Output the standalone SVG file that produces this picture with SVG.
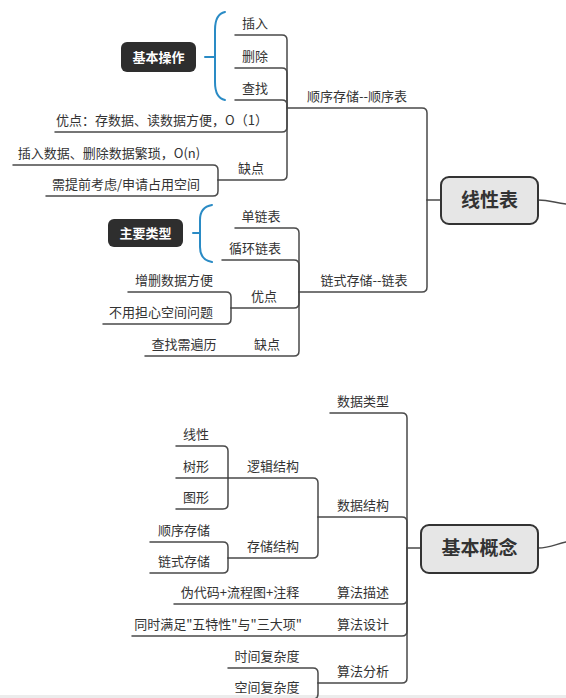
<svg xmlns="http://www.w3.org/2000/svg" width="566" height="698" viewBox="0 0 566 698">
<style>
.ln{fill:none;stroke:#4a4a4a;stroke-width:1.5;stroke-linecap:round}
.br{fill:none;stroke:#2a8bc5;stroke-width:2;stroke-linecap:round}
.t{font-family:"Microsoft YaHei","Noto Sans CJK SC",sans-serif;font-size:13px;fill:#333;text-anchor:middle}
.root rect{fill:#e6e6e6;stroke:#333;stroke-width:2}
.root text{font-family:"Microsoft YaHei","Noto Sans CJK SC",sans-serif;font-size:19px;font-weight:bold;fill:#333;text-anchor:middle}
.dark rect{fill:#2e2e2e}
.dark text{font-family:"Microsoft YaHei","Noto Sans CJK SC",sans-serif;font-size:13px;font-weight:bold;fill:#fff;text-anchor:middle}
</style>
<rect width="566" height="698" fill="#fff"/>
<rect x="0" y="695" width="566" height="3" fill="#ececec"/>
<g id="connectors">
<path class="ln" d="M538,200 C550,200 555,203 566,204"/>
<path class="ln" d="M538,548 C550,548 556,544 566,542"/>
<path class="ln" d="M427,200 H441"/>
<path class="ln" d="M287,108 H422 Q427,108 427,113 V200"/>
<path class="ln" d="M299,292 H422 Q427,292 427,287 V200"/>
<path class="ln" d="M235,35 H282 Q287,35 287,40 V108"/>
<path class="ln" d="M235,68 H282 Q287,68 287,73 V108"/>
<path class="ln" d="M235,100 H282 Q287,100 287,105 V108"/>
<path class="ln" d="M55,132 H282 Q287,132 287,127 V108"/>
<path class="ln" d="M218,180 H282 Q287,180 287,175 V108"/>
<path class="ln" d="M13,165 H213 Q218,165 218,170 V180"/>
<path class="ln" d="M46,196 H213 Q218,196 218,191 V180"/>
<path class="ln" d="M235,228 H294 Q299,228 299,233 V292"/>
<path class="ln" d="M222,260 H294 Q299,260 299,265 V292"/>
<path class="ln" d="M231,308 H294 Q299,308 299,303 V292"/>
<path class="ln" d="M145,356 H294 Q299,356 299,351 V292"/>
<path class="ln" d="M128,292 H226 Q231,292 231,297 V308"/>
<path class="ln" d="M103,324 H226 Q231,324 231,319 V308"/>
<path class="ln" d="M407,548 H421"/>
<path class="ln" d="M330,413 H402 Q407,413 407,418 V548"/>
<path class="ln" d="M318,517 H402 Q407,517 407,522 V548"/>
<path class="ln" d="M174,604 H402 Q407,604 407,599 V548"/>
<path class="ln" d="M132,636 H402 Q407,636 407,631 V548"/>
<path class="ln" d="M318,683 H402 Q407,683 407,678 V548"/>
<path class="ln" d="M228,478 H313 Q318,478 318,483 V517"/>
<path class="ln" d="M228,558 H313 Q318,558 318,553 V517"/>
<path class="ln" d="M176,446 H223 Q228,446 228,451 V478"/>
<path class="ln" d="M176,478 H228"/>
<path class="ln" d="M176,509 H223 Q228,509 228,504 V478"/>
<path class="ln" d="M150,542 H223 Q228,542 228,547 V558"/>
<path class="ln" d="M150,573 H223 Q228,573 228,568 V558"/>
<path class="ln" d="M228,668 H313 Q318,668 318,673 V683"/>
<path class="ln" d="M228,699 H313 Q318,699 318,694 V683"/>
<path class="br" d="M205,57 H215"/>
<path class="br" d="M225,12 Q215,14 215,30 V82 Q215,98 225,100"/>
<path class="br" d="M193,233 H200"/>
<path class="br" d="M212,205 Q200,207 200,220 V247 Q200,260 212,262"/>
</g>
<g id="root-linear" class="root"><rect x="441" y="177" width="97" height="47" rx="8"/><text x="489.5" y="207">线性表</text></g>
<g id="root-basic" class="root"><rect x="421" y="525" width="117" height="48" rx="8"/><text x="479.5" y="555">基本概念</text></g>
<g id="n-jbcz" class="dark"><rect x="121" y="42" width="75" height="30" rx="6"/><text x="158.5" y="62">基本操作</text></g>
<g id="n-zylx" class="dark"><rect x="108" y="219" width="75" height="28" rx="6"/><text x="145.5" y="238">主要类型</text></g>
<g id="n-seq"><text class="t" x="357" y="101">顺序存储--顺序表</text></g>
<g id="n-insert"><text class="t" x="255" y="28">插入</text></g>
<g id="n-delete"><text class="t" x="255" y="61">删除</text></g>
<g id="n-find"><text class="t" x="255" y="93">查找</text></g>
<g id="n-seq-pro"><text class="t" x="162" y="125">优点：存数据、读数据方便，O（1）</text></g>
<g id="n-seq-con"><text class="t" x="251" y="173">缺点</text></g>
<g id="n-seq-con1"><text class="t" x="109" y="158">插入数据、删除数据繁琐，O(n)</text></g>
<g id="n-seq-con2"><text class="t" x="126" y="189">需提前考虑/申请占用空间</text></g>
<g id="n-link"><text class="t" x="364" y="285">链式存储--链表</text></g>
<g id="n-single"><text class="t" x="261" y="221">单链表</text></g>
<g id="n-circle"><text class="t" x="255" y="253">循环链表</text></g>
<g id="n-link-pro"><text class="t" x="264" y="301">优点</text></g>
<g id="n-link-pro1"><text class="t" x="174" y="285">增删数据方便</text></g>
<g id="n-link-pro2"><text class="t" x="161" y="317">不用担心空间问题</text></g>
<g id="n-link-con"><text class="t" x="267" y="349">缺点</text></g>
<g id="n-link-con1"><text class="t" x="184" y="349">查找需遍历</text></g>
<g id="n-dtype"><text class="t" x="363" y="406">数据类型</text></g>
<g id="n-dstruct"><text class="t" x="363" y="510">数据结构</text></g>
<g id="n-logic"><text class="t" x="273" y="471">逻辑结构</text></g>
<g id="n-linear"><text class="t" x="196" y="439">线性</text></g>
<g id="n-tree"><text class="t" x="196" y="471">树形</text></g>
<g id="n-graph"><text class="t" x="196" y="502">图形</text></g>
<g id="n-storage"><text class="t" x="273" y="551">存储结构</text></g>
<g id="n-seqst"><text class="t" x="184" y="535">顺序存储</text></g>
<g id="n-linkst"><text class="t" x="184" y="566">链式存储</text></g>
<g id="n-adesc"><text class="t" x="363" y="597">算法描述</text></g>
<g id="n-adesc1"><text class="t" x="240" y="597">伪代码+流程图+注释</text></g>
<g id="n-adesign"><text class="t" x="363" y="629">算法设计</text></g>
<g id="n-adesign1"><text class="t" x="218" y="629">同时满足"五特性"与"三大项"</text></g>
<g id="n-aanal"><text class="t" x="363" y="676">算法分析</text></g>
<g id="n-time"><text class="t" x="267" y="661">时间复杂度</text></g>
<g id="n-space"><text class="t" x="267" y="692">空间复杂度</text></g>
</svg>
